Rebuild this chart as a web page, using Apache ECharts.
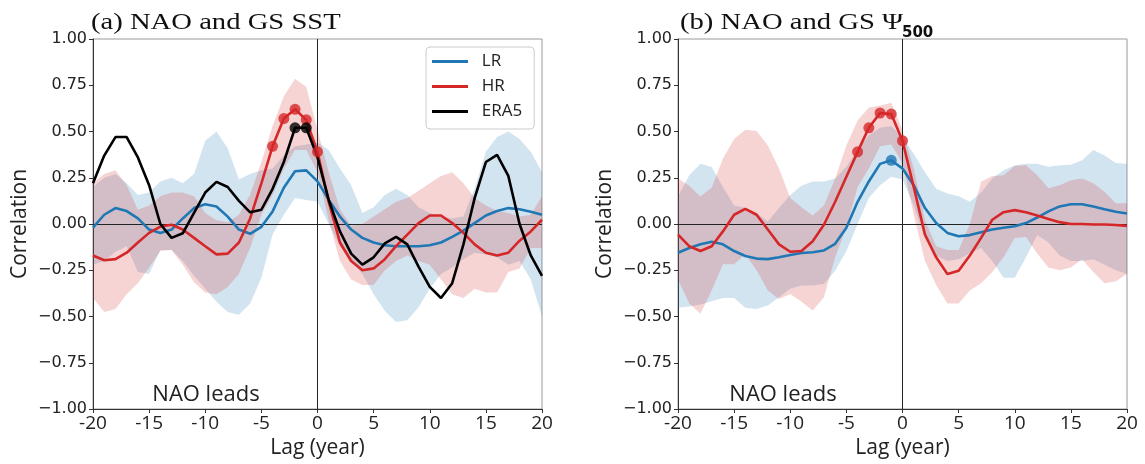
<!DOCTYPE html>
<html><head><meta charset="utf-8">
<script src="https://cdn.jsdelivr.net/npm/echarts@6/dist/echarts.min.js"></script>
<style>html,body{margin:0;padding:0;background:#fff}#c{width:1145px;height:464px}</style>
</head><body><div id="c"></div>
<script>
const lags = [-20,-19,-18,-17,-16,-15,-14,-13,-12,-11,-10,-9,-8,-7,-6,-5,-4,-3,-2,-1,0,1,2,3,4,5,6,7,8,9,10,11,12,13,14,15,16,17,18,19,20];
const xTicks = [-20,-15,-10,-5,0,5,10,15,20];
const yTicks = [-1,-0.75,-0.5,-0.25,0,0.25,0.5,0.75,1];

// Panel (a): NAO and GS SST
const A_LR = [-0.02,0.05,0.086,0.07,0.03,-0.03,-0.048,-0.03,0.03,0.086,
  0.107,0.095,0.04,-0.03,-0.053,-0.015,0.068,0.196,0.285,0.29,
  0.23,0.13,0.04,-0.03,-0.075,-0.1,-0.115,-0.12,-0.12,-0.12,
  -0.115,-0.1,-0.07,-0.036,0.005,0.046,0.07,0.086,0.08,0.066,
  0.05];
const A_LR_lo = [-0.22,-0.2,-0.15,-0.12,-0.26,-0.27,-0.14,-0.14,-0.2,-0.28,
  -0.35,-0.42,-0.476,-0.49,-0.43,-0.29,-0.057,0.05,0.14,0.13,
  0.12,0.0,-0.12,-0.2,-0.27,-0.38,-0.47,-0.53,-0.52,-0.45,
  -0.35,-0.27,-0.235,-0.19,-0.155,-0.165,-0.18,-0.22,-0.2,-0.3,
  -0.5];
const A_LR_hi = [0.2,0.25,0.27,0.22,0.157,0.17,0.23,0.25,0.22,0.27,
  0.45,0.5,0.41,0.24,0.27,0.29,0.3,0.37,0.42,0.43,
  0.44,0.4,0.3,0.21,0.06,0.09,0.157,0.19,0.157,0.09,
  0.06,0.04,0.03,0.04,0.19,0.39,0.47,0.5,0.46,0.39,
  0.28];
const A_HR = [-0.17,-0.196,-0.19,-0.155,-0.1,-0.048,-0.014,-0.004,-0.03,-0.075,
  -0.12,-0.164,-0.16,-0.1,0.03,0.22,0.42,0.57,0.62,0.563,
  0.39,0.12,-0.1,-0.2,-0.25,-0.24,-0.19,-0.12,-0.057,0.005,
  0.046,0.046,0.005,-0.048,-0.11,-0.155,-0.17,-0.155,-0.09,-0.04,
  0.023];
const A_HR_lo = [-0.4,-0.476,-0.46,-0.38,-0.32,-0.235,-0.146,-0.14,-0.22,-0.315,
  -0.37,-0.38,-0.34,-0.27,-0.128,0.05,0.157,0.3,0.4,0.4,
  0.28,0.02,-0.2,-0.3,-0.33,-0.33,-0.25,-0.2,-0.17,-0.2,
  -0.22,-0.3,-0.38,-0.4,-0.35,-0.37,-0.37,-0.26,-0.24,-0.13,
  -0.13];
const A_HR_hi = [0.22,0.27,0.29,0.21,0.077,0.1,0.15,0.17,0.17,0.15,
  0.06,0.02,0.01,0.05,0.16,0.335,0.53,0.69,0.785,0.74,
  0.51,0.28,0.08,-0.01,0.0,0.04,0.08,0.12,0.14,0.18,
  0.22,0.26,0.28,0.22,0.14,0.1,0.07,0.06,0.04,0.05,
  0.15];
const A_ERA5 = [0.22,0.37,0.47,0.47,0.36,0.21,0.0,-0.075,-0.05,0.06,
  0.17,0.228,0.2,0.125,0.063,0.077,0.19,0.335,0.52,0.52,
  0.36,0.13,-0.04,-0.16,-0.22,-0.18,-0.105,-0.07,-0.11,-0.23,
  -0.34,-0.4,-0.32,-0.11,0.14,0.335,0.374,0.26,0.0,-0.17,
  -0.28];
const A_HR_sig = [-4,-3,-2,-1,0];
const A_ERA5_sig = [-2,-1];

// Panel (b): NAO and GS Psi500
const B_LR = [-0.155,-0.13,-0.11,-0.096,-0.11,-0.146,-0.173,-0.187,-0.19,-0.18,
  -0.168,-0.157,-0.153,-0.143,-0.107,-0.02,0.12,0.23,0.325,0.344,
  0.3,0.21,0.086,0.005,-0.048,-0.066,-0.06,-0.045,-0.03,-0.02,
  -0.012,0.005,0.035,0.068,0.095,0.107,0.107,0.095,0.08,0.066,
  0.057];
const B_LR_lo = [-0.453,-0.446,-0.435,-0.417,-0.4,-0.4,-0.453,-0.46,-0.44,-0.396,
  -0.35,-0.333,-0.333,-0.324,-0.253,-0.146,0.0,0.14,0.21,0.255,
  0.24,0.1,-0.08,-0.17,-0.2,-0.19,-0.16,-0.13,-0.2,-0.29,
  -0.29,-0.18,-0.06,-0.1,-0.17,-0.2,-0.2,-0.19,-0.22,-0.25,
  -0.27];
const B_LR_hi = [0.148,0.264,0.326,0.308,0.2,0.1,0.086,0.06,0.014,0.086,
  0.157,0.207,0.23,0.23,0.246,0.31,0.4,0.48,0.52,0.53,
  0.47,0.38,0.28,0.19,0.165,0.15,0.12,0.17,0.246,0.29,
  0.317,0.326,0.326,0.31,0.317,0.32,0.344,0.4,0.37,0.33,
  0.326];
const B_HR = [-0.057,-0.12,-0.146,-0.12,-0.04,0.05,0.082,0.05,-0.03,-0.11,
  -0.15,-0.146,-0.093,-0.004,0.12,0.255,0.39,0.52,0.6,0.594,
  0.45,0.2,-0.057,-0.18,-0.27,-0.253,-0.17,-0.075,0.023,0.064,
  0.075,0.064,0.046,0.027,0.01,0.0,0.0,-0.003,-0.003,-0.005,
  -0.01];
const B_HR_lo = [-0.3,-0.43,-0.485,-0.36,-0.217,-0.217,-0.164,-0.25,-0.36,-0.405,
  -0.378,-0.42,-0.467,-0.396,-0.18,-0.02,0.2,0.3,0.42,0.43,
  0.33,0.05,-0.2,-0.33,-0.43,-0.43,-0.36,-0.32,-0.26,-0.18,
  -0.075,-0.07,-0.16,-0.235,-0.25,-0.235,-0.19,-0.26,-0.32,-0.31,
  -0.27];
const B_HR_hi = [0.246,0.207,0.148,0.196,0.353,0.46,0.51,0.503,0.424,0.3,
  0.14,0.09,0.046,0.1,0.246,0.424,0.56,0.63,0.64,0.656,
  0.51,0.3,0.02,-0.12,-0.14,-0.14,0.0,0.228,0.26,0.264,
  0.314,0.318,0.264,0.193,0.21,0.237,0.246,0.22,0.175,0.112,
  0.112];
const B_HR_sig = [-4,-3,-2,-1,0];
const B_LR_sig = [-1];

const C_LR = '#1f77b4', C_HR = '#d62728', C_ERA = '#000000';
const F_LR = 'rgba(31,119,180,0.2)', F_HR = 'rgba(214,39,40,0.2)';

function pairs(vals) { return lags.map((l, i) => [l, vals[i]]); }
function sigPts(sig, vals) { return sig.map(l => [l, vals[lags.indexOf(l)]]); }

function band(gi, lo, hi, fill, z) {
  return {
    type: 'custom', xAxisIndex: gi, yAxisIndex: gi, silent: true, z: z,
    data: lags.map((l, i) => [l, lo[i], hi[i]]),
    encode: { x: 0, y: [1, 2] },
    renderItem: function (params, api) {
      if (params.dataIndex !== 0) return null;
      const pts = [];
      for (let i = 0; i < lags.length; i++) pts.push(api.coord([lags[i], hi[i]]));
      for (let i = lags.length - 1; i >= 0; i--) pts.push(api.coord([lags[i], lo[i]]));
      return { type: 'polygon', shape: { points: pts }, style: { fill: fill, stroke: null } };
    }
  };
}
function line(gi, name, vals, color, z, withZero) {
  const s = {
    type: 'line', name: name, xAxisIndex: gi, yAxisIndex: gi, data: pairs(vals),
    showSymbol: false, symbol: 'none', color: color, z: z,
    lineStyle: { color: color, width: 2.6 }, silent: true
  };
  if (withZero) {
    s.markLine = {
      silent: true, symbol: ['none', 'none'], label: { show: false },
      lineStyle: { color: '#222', width: 1, type: 'solid' },
      data: [{ yAxis: 0 }, { xAxis: 0 }]
    };
  }
  return s;
}
function marks(gi, sig, vals, color, z) {
  return {
    type: 'scatter', xAxisIndex: gi, yAxisIndex: gi, data: sigPts(sig, vals),
    symbol: 'circle', symbolSize: 11, itemStyle: { color: color }, z: z, silent: true
  };
}

const gridCommon = { top: 39, height: 374, width: 449, show: true, borderColor: '#9a9a9a', borderWidth: 1, backgroundColor: '#fff' };
function xAx(gi) {
  return {
    gridIndex: gi, type: 'value', min: -20, max: 20, interval: 5,
    axisLine: { show: true, onZero: false, lineStyle: { color: '#333', width: 1 } },
    axisTick: { show: true, length: 4, lineStyle: { color: '#333' } },
    splitLine: { show: false },
    axisLabel: { fontFamily: 'Open Sans', fontSize: 19, color: '#222', margin: 5 },
    name: 'Lag (year)', nameLocation: 'middle', nameGap: 29,
    nameTextStyle: { fontFamily: 'Open Sans', fontSize: 21, color: '#222' }
  };
}
function yAx(gi) {
  return {
    gridIndex: gi, type: 'value', min: -1, max: 1, interval: 0.25,
    axisLine: { show: true, onZero: false, lineStyle: { color: '#333', width: 1 } },
    axisTick: { show: true, length: 4, lineStyle: { color: '#333' } },
    splitLine: { show: false },
    axisLabel: {
      fontFamily: 'DejaVu Sans', fontSize: 16, color: '#222', margin: 6,
      formatter: v => (v < 0 ? '\u2212' : '') + Math.abs(v).toFixed(2)
    },
    name: 'Correlation', nameLocation: 'middle', nameGap: 62, nameRotate: 90,
    nameTextStyle: { fontFamily: 'Open Sans', fontSize: 21, color: '#222' }
  };
}

const option = {
  animation: false,
  backgroundColor: '#fff',
  grid: [Object.assign({ left: 93 }, gridCommon), Object.assign({ left: 678 }, gridCommon)],
  xAxis: [xAx(0), xAx(1)],
  yAxis: [yAx(0), yAx(1)],
  legend: {
    data: ['LR', 'HR', 'ERA5'], orient: 'vertical', left: 426, top: 47,
    icon: 'rect', itemWidth: 36, itemHeight: 3, itemGap: 8,
    padding: [6, 12, 9, 6], borderColor: '#cccccc', borderWidth: 1, borderRadius: 4,
    backgroundColor: '#fff', selectedMode: false,
    formatter: n => '  ' + n,
    textStyle: { fontFamily: 'Open Sans', fontSize: 17, color: '#222' }
  },
  graphic: [
    { type: 'text', x: 91, y: 23, scaleX: 1.245, style: { text: '(a) NAO and GS SST', fontFamily: 'Liberation Serif', fontSize: 23, fill: '#111', verticalAlign: 'middle' } },
    { type: 'text', x: 680, y: 23, scaleX: 1.245, style: { text: '(b) NAO and GS \u03A8', fontFamily: 'Liberation Serif', fontSize: 23, fill: '#111', verticalAlign: 'middle' } },
    { type: 'text', x: 902, y: 33, style: { text: '500', fontFamily: 'DejaVu Sans', fontSize: 15, fontWeight: 'bold', fill: '#111', verticalAlign: 'middle' } },
    { type: 'text', x: 206, y: 395, style: { text: 'NAO leads', fontFamily: 'Open Sans', fontSize: 22, fill: '#222', align: 'center', verticalAlign: 'middle' } },
    { type: 'text', x: 783, y: 395, style: { text: 'NAO leads', fontFamily: 'Open Sans', fontSize: 22, fill: '#222', align: 'center', verticalAlign: 'middle' } }
  ],
  series: [
    band(0, A_LR_lo, A_LR_hi, F_LR, 1),
    band(0, A_HR_lo, A_HR_hi, F_HR, 2),
    line(0, 'LR', A_LR, C_LR, 5, true),
    line(0, 'HR', A_HR, C_HR, 6, false),
    line(0, 'ERA5', A_ERA5, C_ERA, 7, false),
    marks(0, A_HR_sig, A_HR, C_HR, 8),
    marks(0, A_ERA5_sig, A_ERA5, C_ERA, 9),
    band(1, B_LR_lo, B_LR_hi, F_LR, 1),
    band(1, B_HR_lo, B_HR_hi, F_HR, 2),
    line(1, 'LR', B_LR, C_LR, 5, true),
    line(1, 'HR', B_HR, C_HR, 6, false),
    marks(1, B_HR_sig, B_HR, C_HR, 8),
    marks(1, B_LR_sig, B_LR, C_LR, 9)
  ]
};
const chart = echarts.init(document.getElementById('c'));
chart.setOption(option);
</script></body></html>
